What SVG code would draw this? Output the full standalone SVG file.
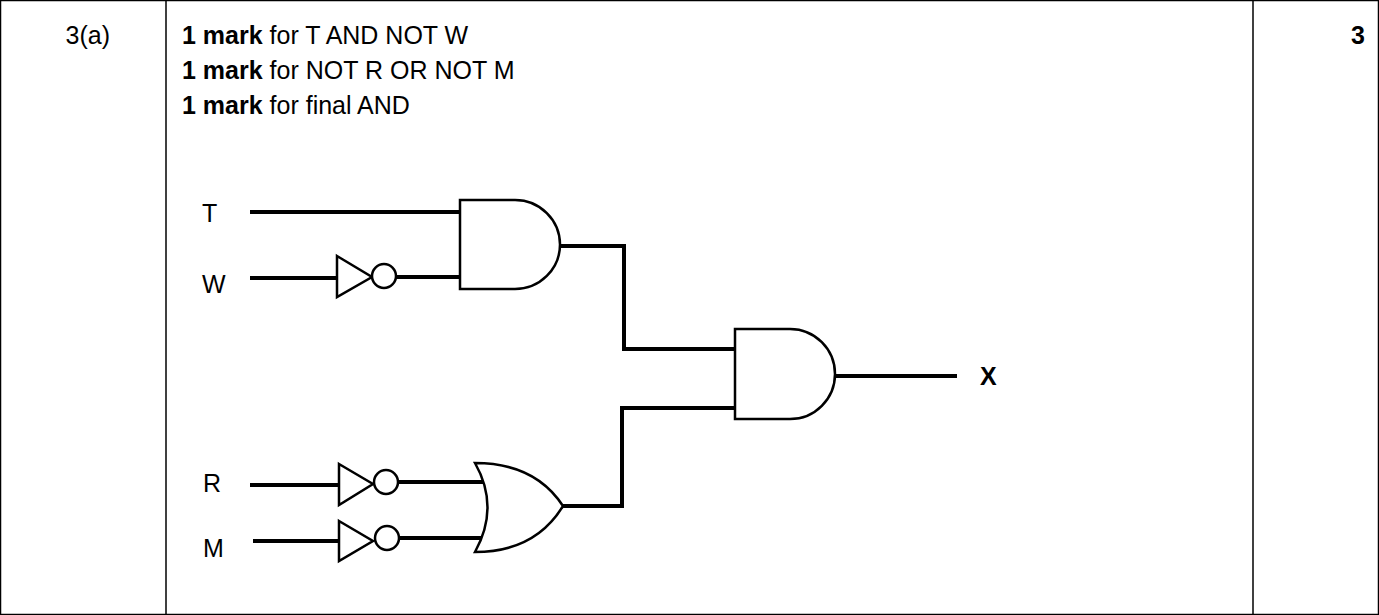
<svg xmlns="http://www.w3.org/2000/svg" width="1379" height="615" viewBox="0 0 1379 615">
<style>
text{font-family:"Liberation Sans",Arial,sans-serif;font-size:25px;fill:#000}
.w{stroke:#000;stroke-width:4;fill:none}
.g{stroke:#000;stroke-width:2.5;fill:#fff}
.b{font-weight:bold}
</style>
<rect x="0.5" y="0.5" width="1378" height="614" fill="#fff" stroke="#000" stroke-width="1.5"/>
<line x1="166" y1="0" x2="166" y2="615" stroke="#000" stroke-width="1.5"/>
<line x1="1253" y1="0" x2="1253" y2="615" stroke="#000" stroke-width="1.5"/>
<text x="110" y="44" text-anchor="end">3(a)</text>
<text x="1365" y="44" text-anchor="end" class="b">3</text>
<text x="182" y="44"><tspan class="b">1 mark</tspan> for T AND NOT W</text>
<text x="182" y="79"><tspan class="b">1 mark</tspan> for NOT R OR NOT M</text>
<text x="182" y="114"><tspan class="b">1 mark</tspan> for final AND</text>
<text x="202" y="222">T</text>
<text x="202" y="293">W</text>
<text x="203" y="492">R</text>
<text x="203" y="557">M</text>
<text x="980" y="385" class="b">X</text>
<g id="connectors">
<path class="w" d="M250 212H460M250 278H337M397 277H460M560 246H624V349H735M250 485H339M398 482H483M253 541H339M399 538H481M563 506H622V408H735M835 376H957"/>
</g>
<g id="and1"><path class="g" d="M460 200H515A45 44.5 0 0 1 515 289H460Z"/></g>
<g id="not_w"><path class="g" d="M337 256L372 277L337 297Z"/><circle class="g" cx="384" cy="276" r="12"/></g>
<g id="not_r"><path class="g" d="M339 464L373 484L339 505Z"/><circle class="g" cx="386" cy="482" r="12"/></g>
<g id="not_m"><path class="g" d="M339 521L373 541L339 561Z"/><circle class="g" cx="387" cy="538" r="12"/></g>
<g id="or1"><path class="g" d="M475 463Q535 463 563 506Q535 552 475 552Q500 507 475 463Z"/></g>
<g id="and2"><path class="g" d="M735 329H790A45 45 0 0 1 790 419H735Z"/></g>
</svg>
